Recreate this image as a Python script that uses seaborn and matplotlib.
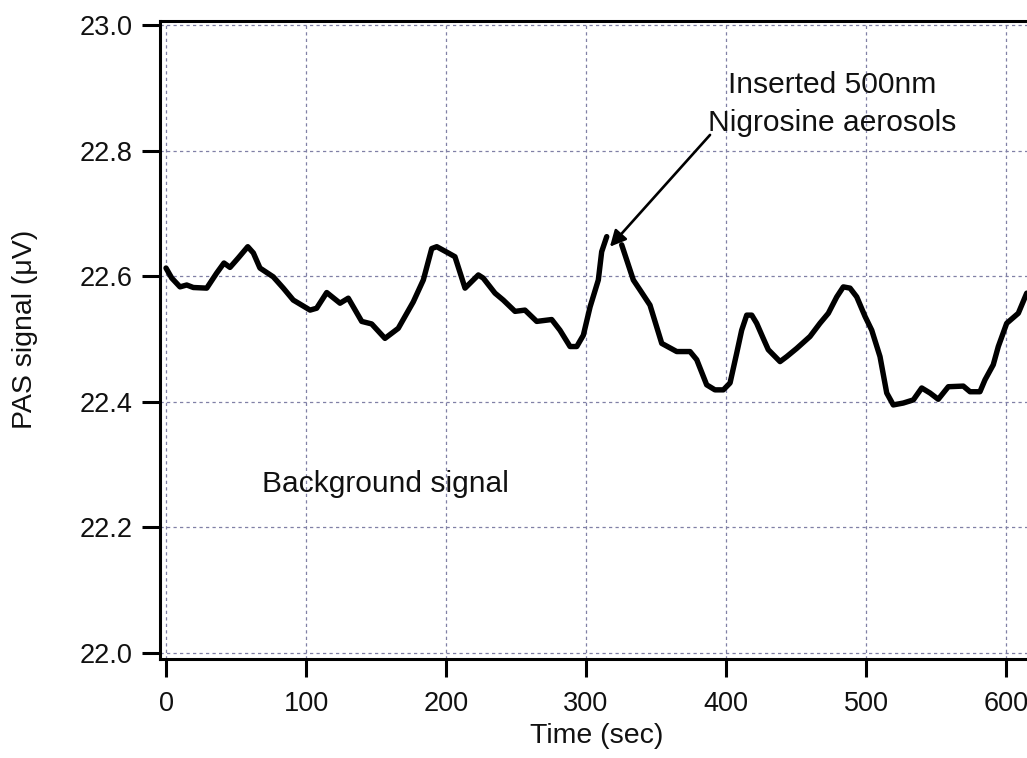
import numpy as np
import pandas as pd
import matplotlib
matplotlib.use("Agg")
import matplotlib.pyplot as plt
import seaborn as sns

# Photoacoustic signal trace (time in s, signal in microvolts)
time_before = [0, 4.1, 10.0, 14.8, 19.5, 29.1, 36.2, 41.4, 45.7, 51.6, 58.4, 62.4,
               67.1, 76.6, 83.8, 90.9, 102.9, 107.6, 114.8, 124.3, 130.2, 139.8,
               146.9, 156.4, 165.9, 176.6, 183.8, 189.8, 193.4, 201.6, 206.4, 213.6,
               223.1, 226.6, 235.0, 240.9, 249.3, 256.4, 264.8, 275.5, 281.4, 288.6,
               293.4, 298.1, 302.9, 308.8, 311.2, 314.8]
signal_before = [22.613, 22.597, 22.583, 22.586, 22.582, 22.581, 22.605, 22.621,
                 22.614, 22.629, 22.647, 22.637, 22.613, 22.599, 22.581, 22.562,
                 22.546, 22.549, 22.574, 22.557, 22.565, 22.528, 22.524, 22.501,
                 22.517, 22.559, 22.594, 22.644, 22.647, 22.637, 22.631, 22.581,
                 22.602, 22.597, 22.573, 22.562, 22.544, 22.546, 22.528, 22.531,
                 22.514, 22.488, 22.488, 22.506, 22.551, 22.594, 22.639, 22.663]

time_after = [325.5, 333.8, 338.6, 345.7, 354.1, 364.8, 374.3, 379.1, 386.2, 392.1,
              398.1, 402.9, 407.6, 411.2, 414.8, 418.4, 421.9, 426.6, 430.2, 438.6,
              443.4, 450.5, 460.0, 467.1, 473.1, 479.1, 483.8, 488.6, 493.4, 499.3,
              504.1, 510.0, 514.8, 519.5, 526.6, 533.8, 539.8, 545.7, 551.6, 558.8,
              569.5, 574.3, 581.4, 585.0, 590.9, 594.5, 600.5, 608.8, 614.8]
signal_after = [22.650, 22.594, 22.578, 22.554, 22.493, 22.480, 22.480, 22.467,
                22.427, 22.419, 22.419, 22.430, 22.477, 22.514, 22.538, 22.538,
                22.525, 22.501, 22.483, 22.464, 22.472, 22.485, 22.504, 22.525,
                22.541, 22.567, 22.583, 22.581, 22.567, 22.536, 22.514, 22.472,
                22.414, 22.395, 22.398, 22.403, 22.422, 22.414, 22.404, 22.424,
                22.425, 22.416, 22.416, 22.435, 22.459, 22.488, 22.525, 22.541,
                22.573]

x_ticks = [0, 100, 200, 300, 400, 500, 600]
y_ticks = [22.0, 22.2, 22.4, 22.6, 22.8, 23.0]

df = pd.concat([
    pd.DataFrame({"time": time_before, "signal": signal_before, "segment": 0}),
    pd.DataFrame({"time": time_after, "signal": signal_after, "segment": 1}),
], ignore_index=True)

sns.set_theme(style="white")
plt.rcParams["font.family"] = ["Liberation Sans", "DejaVu Sans"]

W, H = 1027, 758
fig = plt.figure(figsize=(W / 100, H / 100), dpi=100)
# axes box in pixel terms: left 160, right at figure edge, top 21, bottom 659
ax = fig.add_axes([160 / W, (H - 659) / H, (W - 160) / W, (659 - 21) / H])

sns.lineplot(data=df, x="time", y="signal", units="segment", estimator=None,
             color="black", lw=3.9, ax=ax, legend=False)

ax.set_xlim(-4.29, 615.0)
ax.set_ylim(21.9904, 23.0064)
ax.set_xticks(x_ticks)
ax.set_xticklabels([str(t) for t in x_ticks])
ax.set_yticks(y_ticks)
ax.set_yticklabels([f"{t:.1f}" for t in y_ticks])

ax.grid(True, color="#8080a6", lw=0.9, linestyle=(0, (2.6, 2.6)))
ax.set_axisbelow(True)

for side in ["left", "top", "bottom"]:
    ax.spines[side].set_visible(True)
    ax.spines[side].set_color("black")
    ax.spines[side].set_linewidth(2.2)
ax.spines["right"].set_visible(False)

ax.tick_params(axis="both", which="major", direction="out", length=13, width=2.2,
               color="black", labelsize=19.5, labelcolor="#111111",
               left=True, bottom=True, top=False, right=False)
ax.tick_params(axis="y", pad=7)
ax.tick_params(axis="x", pad=10)

ax.set_xlabel("Time (sec)", fontsize=20.5, color="#111111")
ax.set_ylabel("PAS signal (\u03bcV)", fontsize=20.5, color="#111111")
ax.xaxis.set_label_coords((597 - 160) / 867, (659 - 736) / 638)
ax.xaxis.label.set_va("center")
ax.yaxis.set_label_coords((25 - 160) / 867, (659 - 329) / 638)
ax.yaxis.label.set_va("center")

# annotations
ax.text(68.6, 22.257, "Background signal", fontsize=21.6, color="#111111",
        ha="left", va="baseline")
ax.text(475.7, 22.892, "Inserted 500nm", fontsize=21.6, color="#111111",
        ha="center", va="baseline")
ax.text(475.7, 22.832, "Nigrosine aerosols", fontsize=21.6, color="#111111",
        ha="center", va="baseline")
ax.annotate("", xy=(317.1, 22.647), xytext=(388.6, 22.825),
            arrowprops=dict(arrowstyle="-|>", lw=1.9, color="black",
                            mutation_scale=24, shrinkA=0, shrinkB=0))

fig.savefig("out.png", dpi=100)
